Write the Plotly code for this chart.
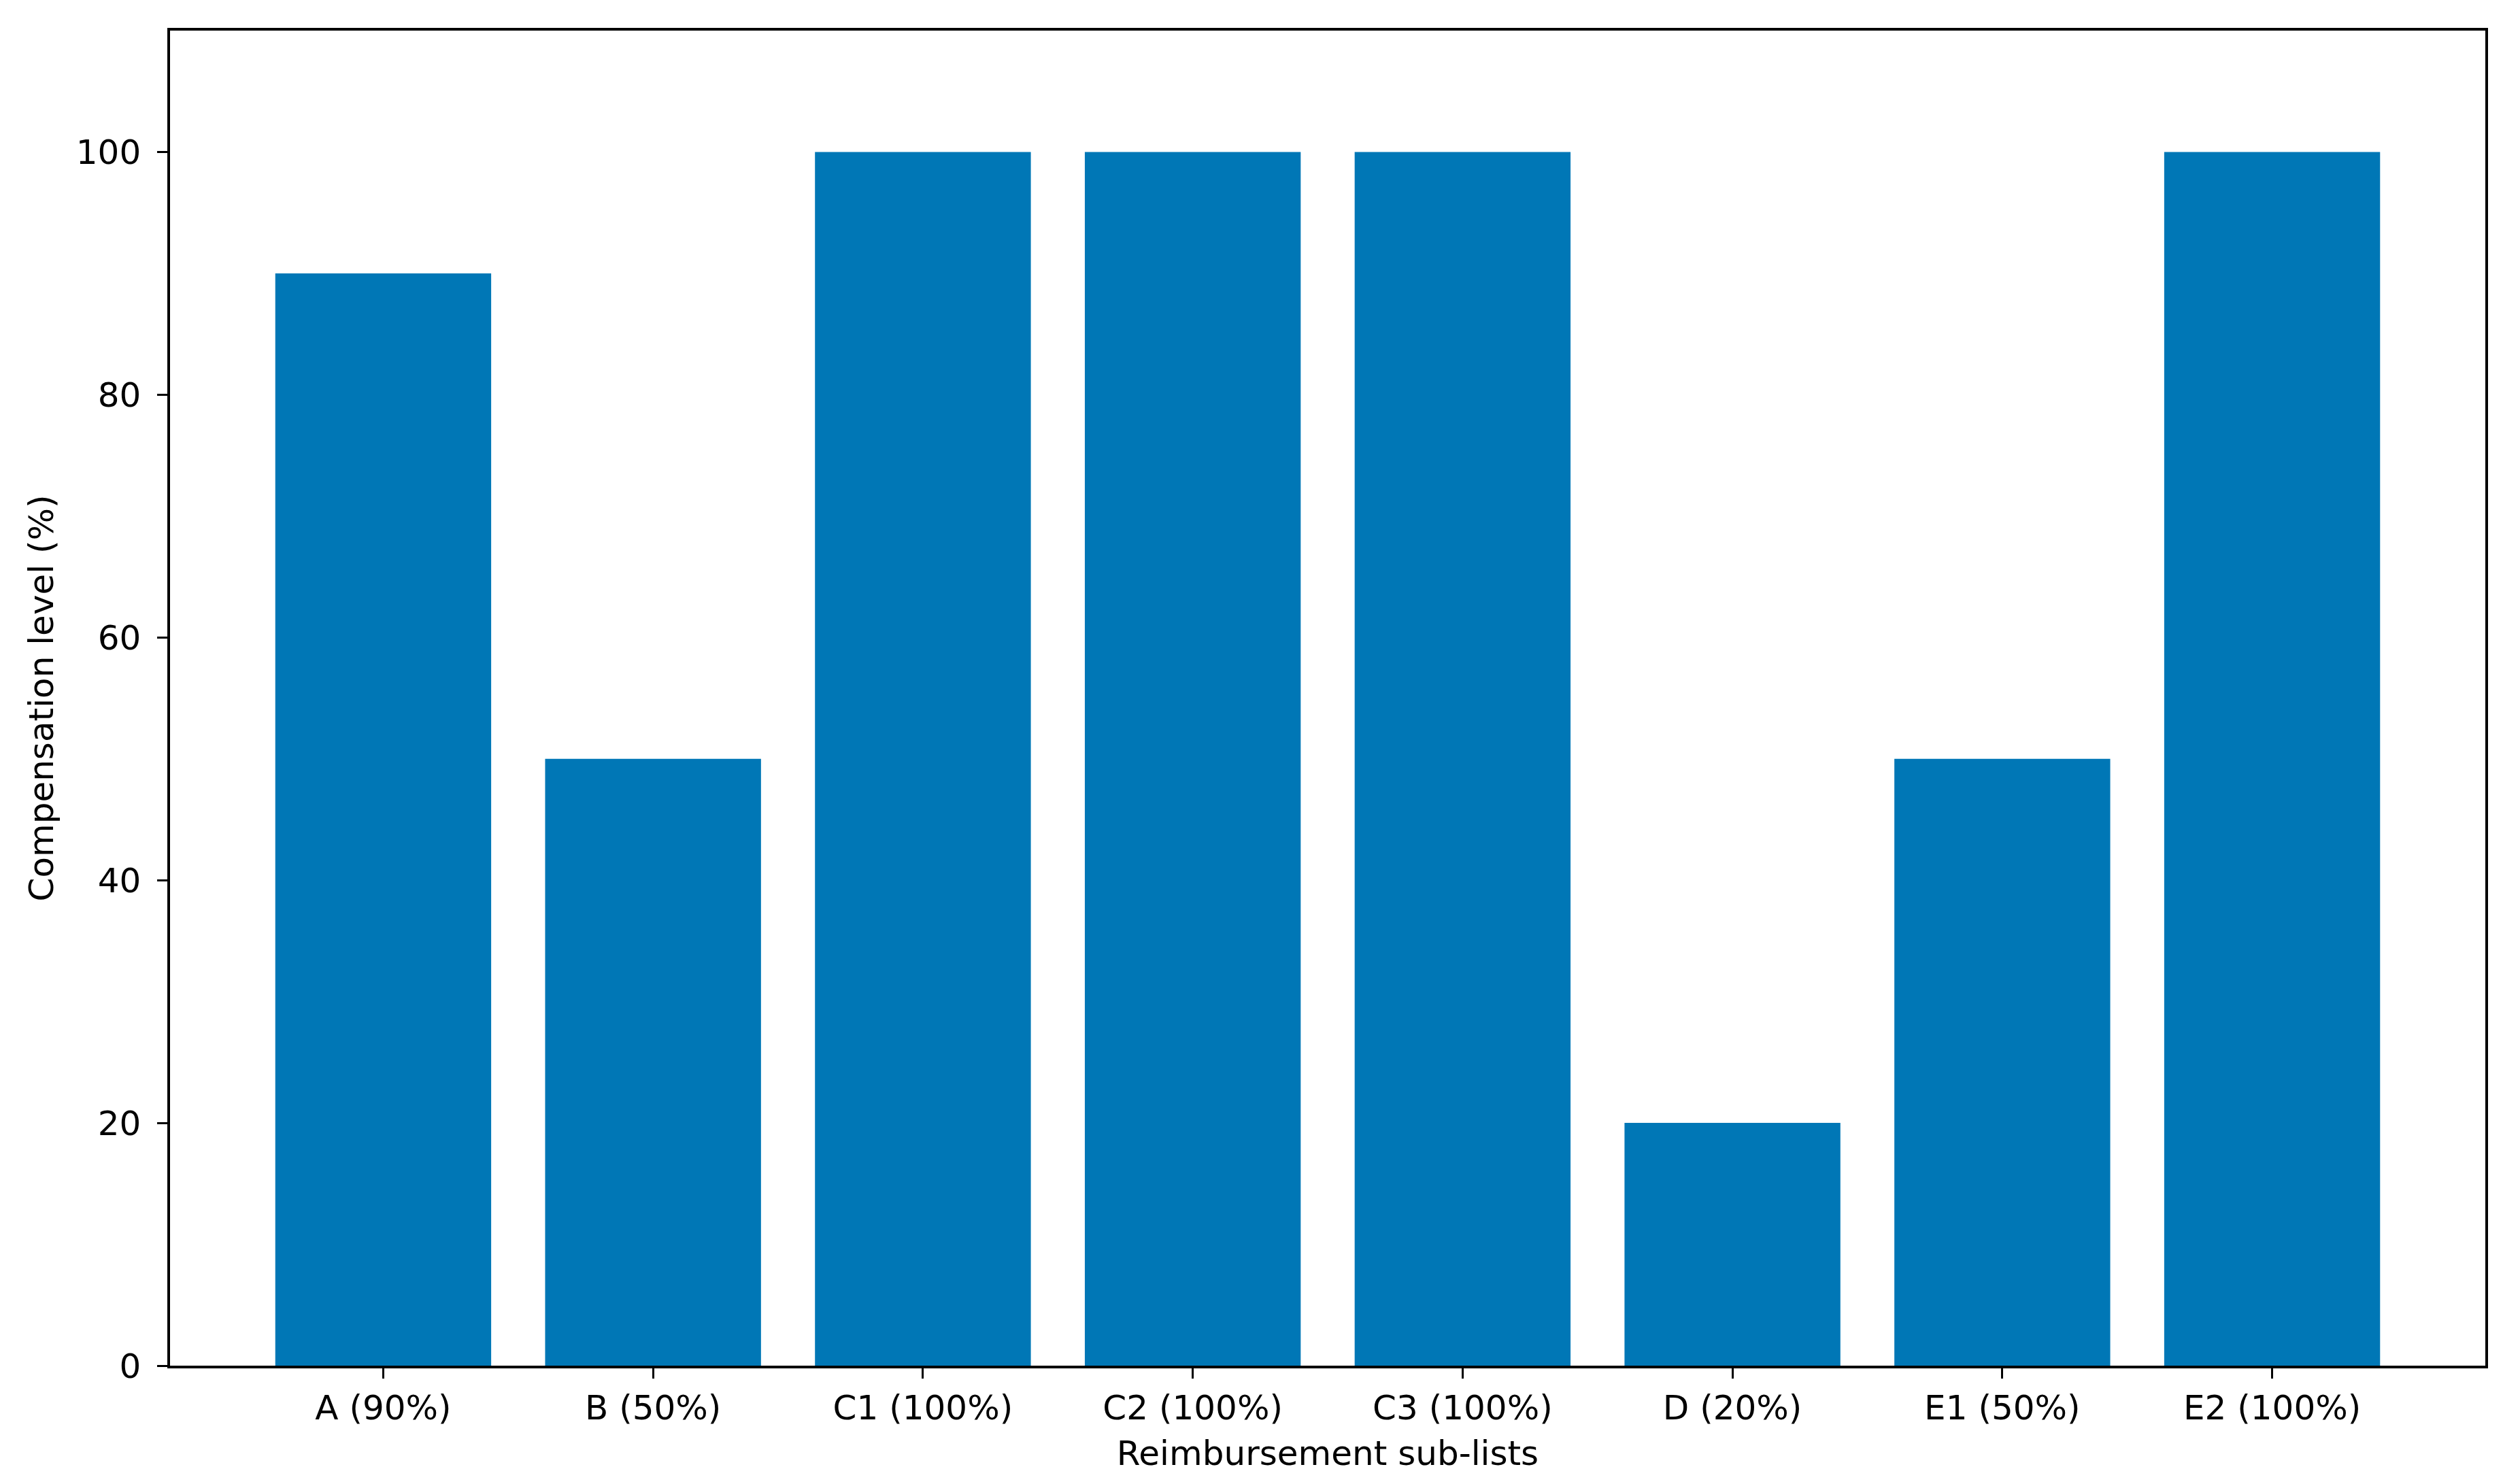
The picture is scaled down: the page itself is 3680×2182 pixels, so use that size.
import plotly.graph_objects as go

categories = ['A (90%)', 'B (50%)', 'C1 (100%)', 'C2 (100%)', 'C3 (100%)',
              'D (20%)', 'E1 (50%)', 'E2 (100%)']
compensation = [90, 50, 100, 100, 100, 20, 50, 100]

font_family = 'DejaVu Sans'
bar_color = '#0077B6'
fsize = 50

fig = go.Figure(go.Bar(x=categories, y=compensation, marker_color=bar_color,
                       marker_line_width=0))

axis_common = dict(showline=True, linecolor='black', linewidth=3.5, mirror=True,
                   ticks='outside', ticklen=15, tickwidth=3.3, tickcolor='black',
                   showgrid=False, zeroline=False,
                   tickfont=dict(family=font_family, size=fsize, color='black'))

fig.update_layout(
    width=3680, height=2182,
    margin=dict(l=242, r=34, t=37, b=182),
    plot_bgcolor='white', paper_bgcolor='white',
    bargap=0.2,
    showlegend=False,
    xaxis=dict(range=[-0.79, 7.79], ticklabelstandoff=0,
               title=dict(text='Reimbursement sub-lists', standoff=22,
                          font=dict(family=font_family, size=fsize, color='black')),
               **axis_common),
    yaxis=dict(range=[0, 110], tickvals=[0, 20, 40, 60, 80, 100],
               ticklabelstandoff=14,
               title=dict(text='Compensation level (%)', standoff=18,
                          font=dict(family=font_family, size=fsize, color='black')),
               **axis_common),
)

fig.write_html('out.html')
